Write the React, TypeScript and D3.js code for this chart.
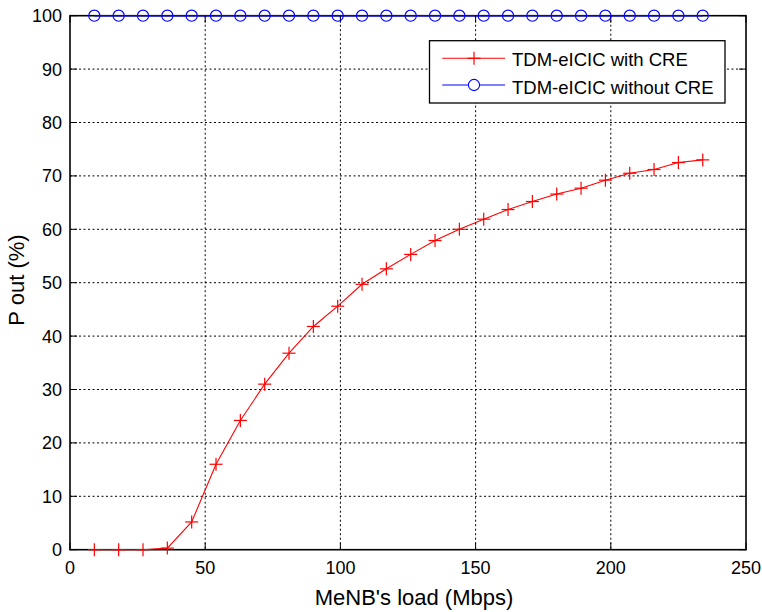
import React from "react";
import * as d3 from "d3";

const loads = [9, 18, 27, 36, 45, 54, 63, 72, 81, 90, 99, 108, 117, 126, 135, 144, 153, 162, 171, 180, 189, 198, 207, 216, 225, 234];
const withCRE = [0, 0, 0, 0.3, 5.2, 16, 24.2, 31, 36.8, 41.8, 45.6, 49.7, 52.6, 55.3, 57.9, 60, 61.9, 63.7, 65.2, 66.6, 67.7, 69.2, 70.5, 71.2, 72.5, 73];
const withoutCRE = [100, 100, 100, 100, 100, 100, 100, 100, 100, 100, 100, 100, 100, 100, 100, 100, 100, 100, 100, 100, 100, 100, 100, 100, 100, 100];
const xTicks = [0, 50, 100, 150, 200, 250];
const yTicks = [0, 10, 20, 30, 40, 50, 60, 70, 80, 90, 100];
const seriesNames = ["TDM-eICIC with CRE", "TDM-eICIC without CRE"];
const xLabel = "MeNB's load (Mbps)";
const yLabel = "P out (%)";

const W = 762, H = 612;
const L = 70, R = 746, T = 15.7, B = 549.7;
const FONT = "'Liberation Sans', Arial, Helvetica, sans-serif";

export default function App() {
  const x = d3.scaleLinear().domain([0, 250]).range([L, R]);
  const y = d3.scaleLinear().domain([0, 100]).range([B, T]);
  const line = d3.line<[number, number]>().x(d => x(d[0])).y(d => y(d[1]));
  const red: [number, number][] = loads.map((l, i) => [l, withCRE[i]]);
  const blue: [number, number][] = loads.map((l, i) => [l, withoutCRE[i]]);
  const tl = 7;
  const ps = 6.5;
  const cr = 5.6;

  const plus = (cx: number, cy: number, key: string) => (
    <g key={key} stroke="#ff0000" strokeWidth={1.2}>
      <line x1={cx - ps} x2={cx + ps} y1={cy} y2={cy} />
      <line x1={cx} x2={cx} y1={cy - ps} y2={cy + ps} />
    </g>
  );

  const lgL = 429.5, lgT = 40.7, lgR = 725, lgB = 103;
  const row1 = 58.3, row2 = 85;

  return (
    <svg width={W} height={H} style={{ position: "absolute", left: 0, top: 0, background: "#fff" }} fontFamily={FONT}>
      <rect x={0} y={0} width={W} height={H} fill="#fff" />
      {/* grid */}
      <g stroke="#000" strokeWidth={1} strokeDasharray="2,2.5">
        {xTicks.filter(t => t > 0 && t < 250).map(t => (
          <line key={"gx" + t} x1={x(t)} x2={x(t)} y1={T} y2={B} />
        ))}
        {yTicks.filter(t => t > 0 && t < 100).map(t => (
          <line key={"gy" + t} x1={L} x2={R} y1={y(t)} y2={y(t)} />
        ))}
      </g>
      {/* ticks */}
      <g stroke="#000" strokeWidth={1}>
        {xTicks.map(t => (
          <g key={"tx" + t}>
            <line x1={x(t)} x2={x(t)} y1={B} y2={B - tl} />
            <line x1={x(t)} x2={x(t)} y1={T} y2={T + tl} />
          </g>
        ))}
        {yTicks.map(t => (
          <g key={"ty" + t}>
            <line x1={L} x2={L + tl} y1={y(t)} y2={y(t)} />
            <line x1={R} x2={R - tl} y1={y(t)} y2={y(t)} />
          </g>
        ))}
      </g>
      <rect x={L} y={T} width={R - L} height={B - T} fill="none" stroke="#000" strokeWidth={1.6} />
      {/* tick labels */}
      <g fontSize={18} fill="#000">
        {xTicks.map(t => (
          <text key={"lx" + t} x={x(t)} y={573.5} textAnchor="middle">{t}</text>
        ))}
        {yTicks.map(t => (
          <text key={"ly" + t} x={62} y={y(t)} dy="0.36em" textAnchor="end">{t}</text>
        ))}
      </g>
      {/* axis labels */}
      <text x={414} y={605} fontSize={22} textAnchor="middle" fill="#000">{xLabel}</text>
      <text transform={`translate(24,280) rotate(-90)`} fontSize={22} textAnchor="middle" fill="#000">{yLabel}</text>
      {/* data */}
      <path d={line(blue) || ""} fill="none" stroke="#0000ff" strokeWidth={1.5} />
      {blue.map((d, i) => (
        <circle key={"c" + i} cx={x(d[0])} cy={y(d[1])} r={cr} fill="none" stroke="#0000ff" strokeWidth={1.1} />
      ))}
      <path d={line(red) || ""} fill="none" stroke="#ff0000" strokeWidth={1.1} />
      {red.map((d, i) => plus(x(d[0]), y(d[1]), "p" + i))}
      {/* legend */}
      <rect x={lgL} y={lgT} width={lgR - lgL} height={lgB - lgT} fill="#fff" stroke="#000" strokeWidth={1.3} />
      <line x1={442.3} x2={505} y1={row1} y2={row1} stroke="#ff0000" strokeWidth={1.1} />
      {plus(474, row1, "lp")}
      <line x1={442.3} x2={505} y1={row2} y2={row2} stroke="#0000ff" strokeWidth={1.1} />
      <circle cx={474} cy={row2} r={cr} fill="#fff" stroke="#0000ff" strokeWidth={1.1} />
      <text x={512} y={65.6} fontSize={18.5} fill="#000">{seriesNames[0]}</text>
      <text x={512} y={93.6} fontSize={18.5} fill="#000">{seriesNames[1]}</text>
    </svg>
  );
}
